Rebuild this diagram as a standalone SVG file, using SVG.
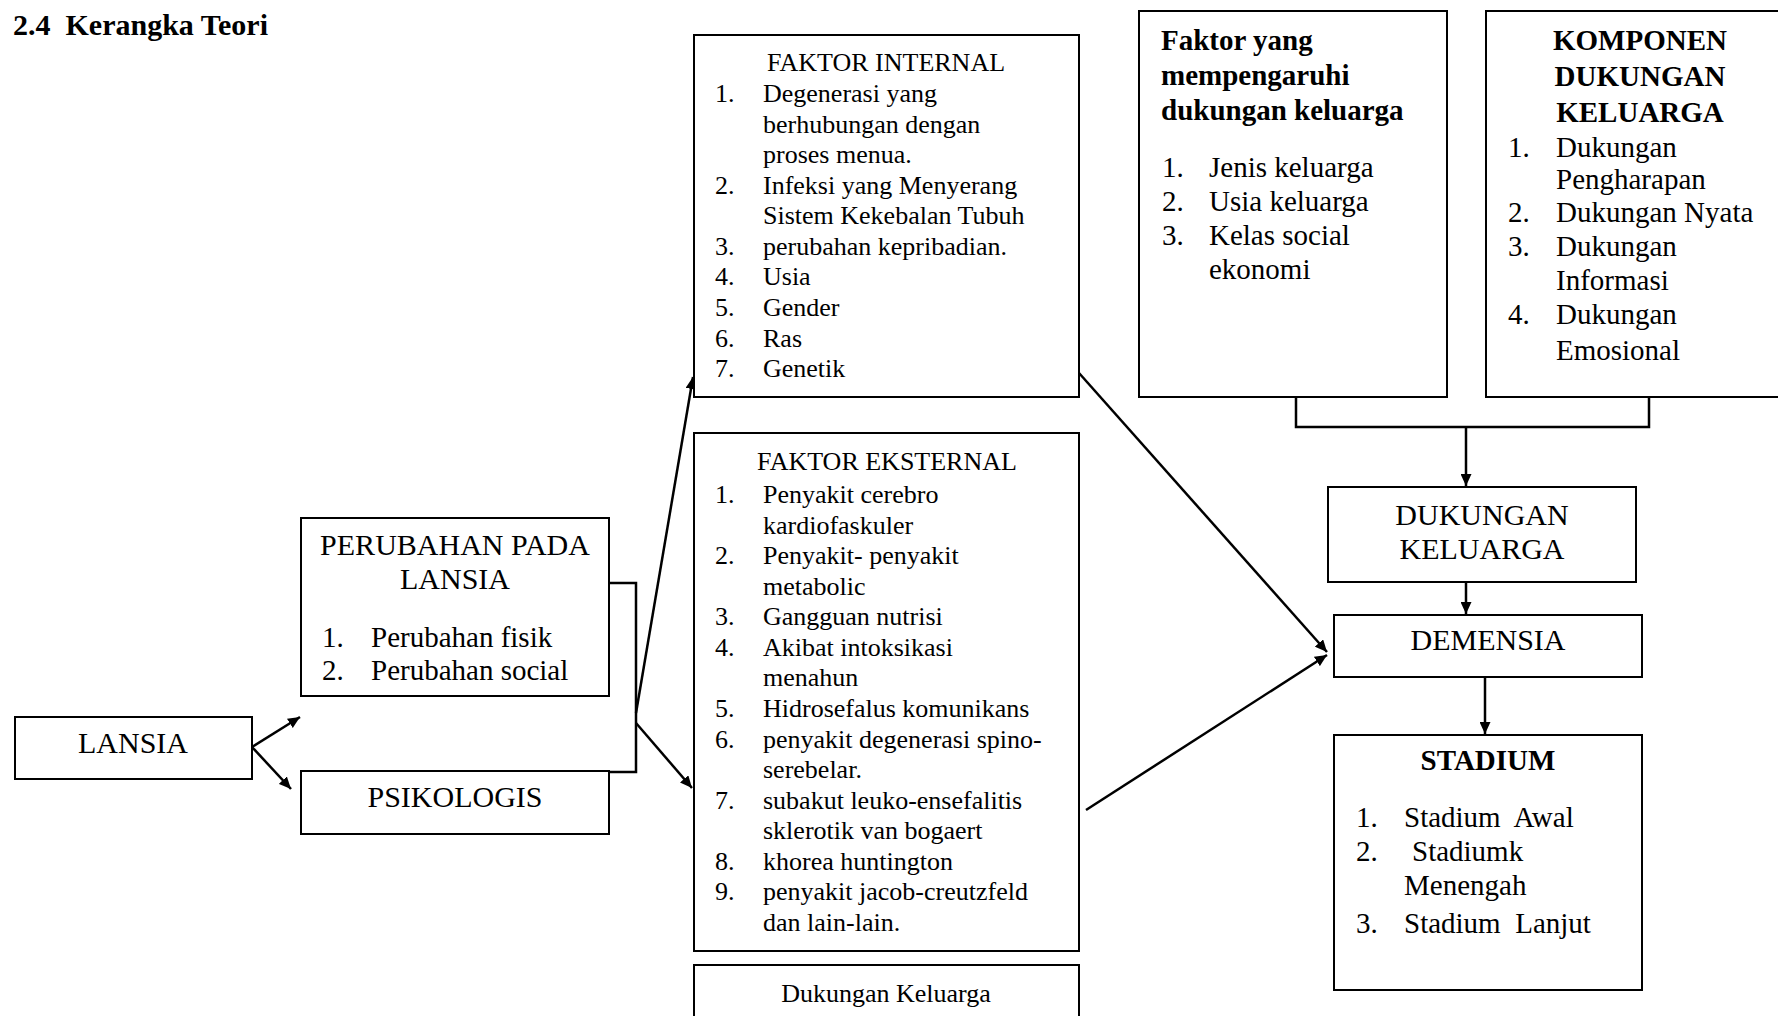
<svg xmlns="http://www.w3.org/2000/svg" width="1778" height="1016" viewBox="0 0 1778 1016">
<style>
  .box { fill: #fff; stroke: #000; stroke-width: 2; }
  .ln { fill: none; stroke: #000; stroke-width: 2.5; }
  text { font-family: "Liberation Serif", "Times New Roman", serif; fill: #000; }
  .t26 { font-size: 26px; }
  .t29 { font-size: 29px; }
  .t30 { font-size: 30px; }
  .b29 { font-size: 29px; font-weight: bold; }
  .b30 { font-size: 30px; font-weight: bold; }
  .mid { text-anchor: middle; }
</style>
<defs>
  <marker id="ah" markerUnits="userSpaceOnUse" markerWidth="13" markerHeight="11" refX="12" refY="5.5" orient="auto">
    <path d="M0,0 L12,5.5 L0,11 z" fill="#000"/>
  </marker>
</defs>
<rect width="1778" height="1016" fill="#fff"/>

<text id="title" x="13" y="35" class="b30" xml:space="preserve">2.4  Kerangka Teori</text>

<g id="connectors">
  <line class="ln" x1="252" y1="747" x2="300" y2="717" marker-end="url(#ah)"/>
  <line class="ln" x1="252" y1="747" x2="291" y2="789" marker-end="url(#ah)"/>
  <polyline class="ln" points="609,583 636,583 636,772 609,772"/>
  <line class="ln" x1="636" y1="713" x2="693" y2="377" marker-end="url(#ah)"/>
  <line class="ln" x1="636" y1="723" x2="692" y2="788" marker-end="url(#ah)"/>
  <line class="ln" x1="1079" y1="373" x2="1327" y2="652" marker-end="url(#ah)"/>
  <line class="ln" x1="1086" y1="810" x2="1327" y2="655" marker-end="url(#ah)"/>
  <polyline class="ln" points="1296,397 1296,427 1649,427 1649,397"/>
  <line class="ln" x1="1466" y1="427" x2="1466" y2="486" marker-end="url(#ah)"/>
  <line class="ln" x1="1466" y1="582" x2="1466" y2="614" marker-end="url(#ah)"/>
  <line class="ln" x1="1485" y1="677" x2="1485" y2="734" marker-end="url(#ah)"/>
</g>

<g id="lansia">
  <rect class="box" x="15" y="717" width="237" height="62"/>
  <text class="t30 mid" x="133" y="753">LANSIA</text>
</g>

<g id="perubahan">
  <rect class="box" x="301" y="518" width="308" height="178"/>
  <text class="t30 mid" x="455" y="555">PERUBAHAN PADA</text>
  <text class="t30 mid" x="455" y="589">LANSIA</text>
  <text class="t29" x="322" y="647">1.</text>
  <text class="t29" x="371" y="647">Perubahan fisik</text>
  <text class="t29" x="322" y="680">2.</text>
  <text class="t29" x="371" y="680">Perubahan social</text>
</g>

<g id="psikologis">
  <rect class="box" x="301" y="771" width="308" height="63"/>
  <text class="t30 mid" x="455" y="807">PSIKOLOGIS</text>
</g>

<g id="faktor-internal">
  <rect class="box" x="694" y="35" width="385" height="362"/>
  <text class="t26 mid" x="886" y="70.5">FAKTOR INTERNAL</text>
  <g class="t26">
    <text x="715" y="102">1.</text><text x="763" y="102">Degenerasi yang</text>
    <text x="763" y="132.6">berhubungan dengan</text>
    <text x="763" y="163.1">proses menua.</text>
    <text x="715" y="193.7">2.</text><text x="763" y="193.7">Infeksi yang Menyerang</text>
    <text x="763" y="224.2">Sistem Kekebalan Tubuh</text>
    <text x="715" y="254.8">3.</text><text x="763" y="254.8">perubahan kepribadian.</text>
    <text x="715" y="285.4">4.</text><text x="763" y="285.4">Usia</text>
    <text x="715" y="315.9">5.</text><text x="763" y="315.9">Gender</text>
    <text x="715" y="346.5">6.</text><text x="763" y="346.5">Ras</text>
    <text x="715" y="377">7.</text><text x="763" y="377">Genetik</text>
  </g>
</g>

<g id="faktor-eksternal">
  <rect class="box" x="694" y="433" width="385" height="518"/>
  <text class="t26 mid" x="887" y="469.5">FAKTOR EKSTERNAL</text>
  <g class="t26">
    <text x="715" y="503">1.</text><text x="763" y="503">Penyakit cerebro</text>
    <text x="763" y="533.6">kardiofaskuler</text>
    <text x="715" y="564.1">2.</text><text x="763" y="564.1">Penyakit- penyakit</text>
    <text x="763" y="594.7">metabolic</text>
    <text x="715" y="625.3">3.</text><text x="763" y="625.3">Gangguan nutrisi</text>
    <text x="715" y="655.9">4.</text><text x="763" y="655.9">Akibat intoksikasi</text>
    <text x="763" y="686.4">menahun</text>
    <text x="715" y="717">5.</text><text x="763" y="717">Hidrosefalus komunikans</text>
    <text x="715" y="747.6">6.</text><text x="763" y="747.6">penyakit degenerasi spino-</text>
    <text x="763" y="778.1">serebelar.</text>
    <text x="715" y="808.7">7.</text><text x="763" y="808.7">subakut leuko-ensefalitis</text>
    <text x="763" y="839.3">sklerotik van bogaert</text>
    <text x="715" y="869.8">8.</text><text x="763" y="869.8">khorea huntington</text>
    <text x="715" y="900.4">9.</text><text x="763" y="900.4">penyakit jacob-creutzfeld</text>
    <text x="763" y="931">dan lain-lain.</text>
  </g>
</g>

<g id="dukungan-keluarga-bottom">
  <rect class="box" x="694" y="965" width="385" height="70"/>
  <text class="t26 mid" x="886" y="1001.5">Dukungan Keluarga</text>
</g>

<g id="faktor-yang">
  <rect class="box" x="1139" y="11" width="308" height="386"/>
  <text class="b29" x="1161" y="50">Faktor yang</text>
  <text class="b29" x="1161" y="85">mempengaruhi</text>
  <text class="b29" x="1161" y="120">dukungan keluarga</text>
  <g class="t29">
    <text x="1162" y="177">1.</text><text x="1209" y="177">Jenis keluarga</text>
    <text x="1162" y="211">2.</text><text x="1209" y="211">Usia keluarga</text>
    <text x="1162" y="245">3.</text><text x="1209" y="245">Kelas social</text>
    <text x="1209" y="279">ekonomi</text>
  </g>
</g>

<g id="komponen">
  <rect class="box" x="1486" y="11" width="310" height="386"/>
  <text class="b29 mid" x="1640" y="50">KOMPONEN</text>
  <text class="b29 mid" x="1640" y="86">DUKUNGAN</text>
  <text class="b29 mid" x="1640" y="122">KELUARGA</text>
  <g class="t29">
    <text x="1508" y="156.5">1.</text><text x="1556" y="156.5">Dukungan</text>
    <text x="1556" y="188.5">Pengharapan</text>
    <text x="1508" y="222">2.</text><text x="1556" y="222">Dukungan Nyata</text>
    <text x="1508" y="256">3.</text><text x="1556" y="256">Dukungan</text>
    <text x="1556" y="290">Informasi</text>
    <text x="1508" y="324">4.</text><text x="1556" y="324">Dukungan</text>
    <text x="1556" y="360">Emosional</text>
  </g>
</g>

<g id="dukungan-keluarga">
  <rect class="box" x="1328" y="487" width="308" height="95"/>
  <text class="t30 mid" x="1482" y="524.5">DUKUNGAN</text>
  <text class="t30 mid" x="1482" y="558.7">KELUARGA</text>
</g>

<g id="demensia">
  <rect class="box" x="1334" y="615" width="308" height="62"/>
  <text class="t30 mid" x="1488" y="650">DEMENSIA</text>
</g>

<g id="stadium">
  <rect class="box" x="1334" y="735" width="308" height="255"/>
  <text class="b29 mid" x="1488" y="770">STADIUM</text>
  <g class="t29">
    <text x="1356" y="826.7">1.</text><text x="1404" y="826.7" xml:space="preserve">Stadium  Awal</text>
    <text x="1356" y="861">2.</text><text x="1412" y="861">Stadiumk</text>
    <text x="1404" y="895">Menengah</text>
    <text x="1356" y="933">3.</text><text x="1404" y="933" xml:space="preserve">Stadium  Lanjut</text>
  </g>
</g>
</svg>
